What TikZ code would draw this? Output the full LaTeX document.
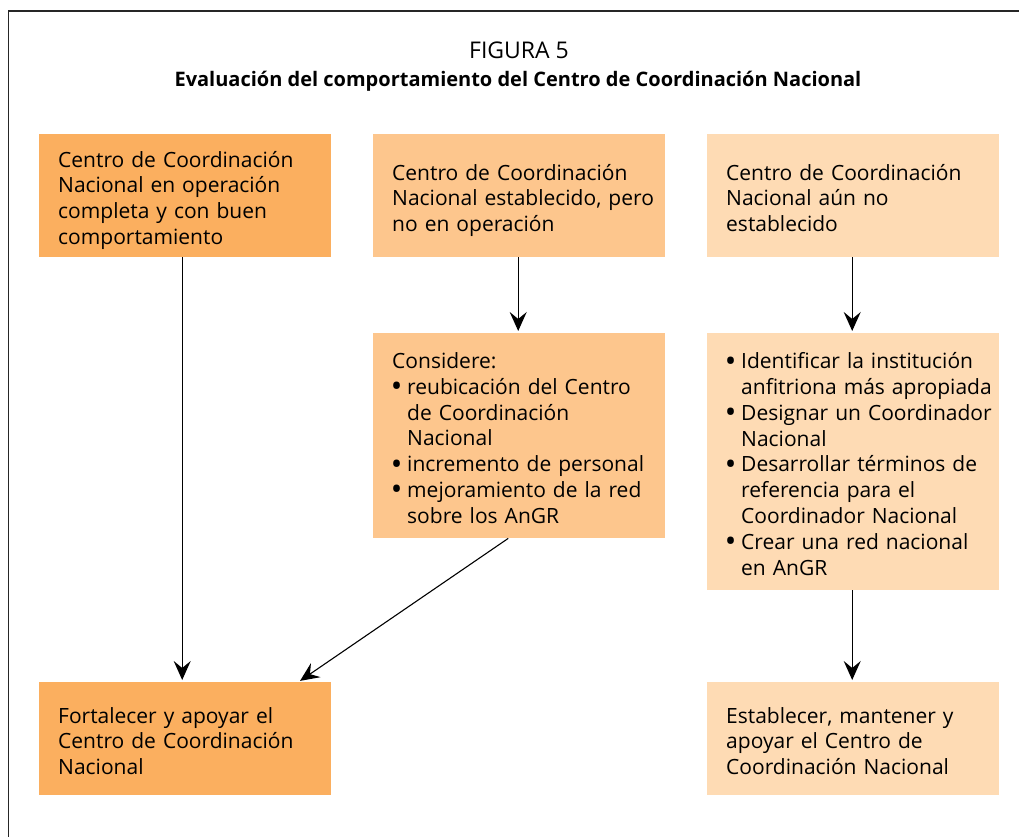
\documentclass[tikz,border=0pt]{standalone}
\usepackage{fontspec}
\setmainfont{Open Sans}
\usetikzlibrary{arrows.meta,calc}
\definecolor{orA}{HTML}{FBAF5F}
\definecolor{orB}{HTML}{FDC68D}
\definecolor{orC}{HTML}{FEDBB4}
\newcommand{\bul}{\makebox[15pt][l]{\raisebox{-0.5pt}{\bfseries\fontsize{24}{24}\selectfont\textbullet}}}
\newcommand{\ind}{\hspace*{15pt}}
\newcommand{\tl}[1]{\raisebox{-5pt}[\height][\depth]{\begin{tabular}{@{}l@{}}#1\end{tabular}}}
\begin{document}
\begin{tikzpicture}[x=1pt,y=-1pt,
  box/.style={rectangle, inner xsep=19pt, inner ysep=0pt, text width=254pt,
    minimum height=#1, align=left, anchor=north west,
    font=\fontsize{21}{25.8}\selectfont},
  arr/.style={line width=1.1pt, -{Stealth[length=19pt,width=17pt,inset=7pt]}, shorten >=2pt}]
\useasboundingbox (0,0) rectangle (1019,837);
\draw[line width=1.5pt, black!85] (8.5,11) rectangle (1060,880);
\node[font=\fontsize{23}{24}\selectfont] (fig) at (519,50) {FIGURA 5};
\node[font=\fontsize{20}{24}\selectfont\bfseries] (tit) at (518,81) {Evaluación del comportamiento del Centro de Coordinación Nacional};
\node[box=123pt, fill=orA] (b1) at (39,134) {\tl{Centro de Coordinación\\Nacional en operación\\completa y con buen\\comportamiento}};
\node[box=123pt, fill=orB] (b2) at (373,134) {\tl{Centro de Coordinación\\Nacional establecido, pero\\no en operación}};
\node[box=123pt, fill=orC] (b3) at (707,134) {\tl{Centro de Coordinación\\Nacional aún no\\establecido}};
\node[box=205pt, fill=orB] (b4) at (373,333) {\tl{Considere:\\\bul reubicación del Centro\\\ind de Coordinación\\\ind Nacional\\\bul incremento de personal\\\bul mejoramiento de la red\\\ind sobre los AnGR}};
\node[box=257pt, fill=orC] (b5) at (707,333) {\tl{\bul Identificar la institución\\\ind anfitriona más apropiada\\\bul Designar un Coordinador\\\ind Nacional\\\bul Desarrollar términos de\\\ind referencia para el\\\ind Coordinador Nacional\\\bul Crear una red nacional\\\ind en AnGR}};
\node[box=113pt, fill=orA] (b6) at (39,682) {\tl{Fortalecer y apoyar el\\Centro de Coordinación\\Nacional}};
\node[box=113pt, fill=orC] (b7) at (707,682) {\tl{Establecer, mantener y\\apoyar el Centro de\\Coordinación Nacional}};
\draw[arr] ($(b1.south)+(-3,0)$) -- ($(b6.north)+(-3,0)$);
\draw[arr] ($(b2.south)+(-1,0)$) -- ($(b4.north)+(-1,0)$);
\draw[arr] ($(b3.south)+(-1,0)$) -- ($(b5.north)+(-1,0)$);
\draw[arr] ($(b5.south)+(-1,0)$) -- ($(b7.north)+(-1,0)$);
\draw[arr] ($(b4.south)+(-11,0)$) -- ($(b6.north east)+(-33,0)$);
\end{tikzpicture}
\end{document}
